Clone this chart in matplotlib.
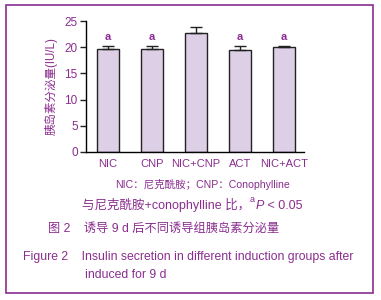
import matplotlib
matplotlib.use('Agg')
import matplotlib.pyplot as plt
from matplotlib.patches import Rectangle

plt.rcParams['font.family'] = ['Liberation Sans', 'Noto Sans CJK SC', 'DejaVu Sans']

groups = ['NIC', 'CNP', 'NIC+CNP', 'ACT', 'NIC+ACT']
means = [19.7, 19.7, 22.8, 19.5, 20.1]
errs = [0.5, 0.6, 1.1, 0.8, 0.1]
marks = ['a', 'a', '', 'a', 'a']
yticks = [0, 5, 10, 15, 20, 25]

purple = '#8a2d8f'
fill = '#dccfe6'

fig = plt.figure(figsize=(3.81, 3.0), dpi=100)
fig.patch.set_facecolor('white')

# purple frame around the whole figure
fig.patches.append(Rectangle((6 / 381, 1 - 293 / 300), 367 / 381, 288 / 300,
                             transform=fig.transFigure, fill=False,
                             edgecolor=purple, linewidth=1.2))

ax = fig.add_axes([86 / 381, 1 - 152 / 300, 218 / 381, 131 / 300])
x = list(range(len(groups)))
ax.bar(x, means, width=0.5, color=fill, edgecolor='#222222', linewidth=1.0,
       yerr=[[0] * len(errs), errs], capsize=4,
       error_kw=dict(ecolor='#222222', elinewidth=1.0, capthick=1.0))
for i, m in enumerate(marks):
    if m:
        ax.text(i, 21.9, m, ha='center', va='center', color=purple,
                fontsize=8, fontweight='bold')

ax.set_xlim(-0.5, 4.45)
ax.set_ylim(0, 25)
ax.set_yticks(yticks)
ax.set_xticks(x)
ax.set_xticklabels(groups)
ax.spines['top'].set_visible(False)
ax.spines['right'].set_visible(False)
ax.spines['left'].set_linewidth(1.0)
ax.spines['bottom'].set_linewidth(1.0)
ax.tick_params(axis='y', length=4, width=1.0, labelsize=8.5, colors='#222222',
               labelcolor=purple, pad=2)
ax.tick_params(axis='x', length=0, labelsize=8, labelcolor=purple, pad=5)
ax.set_ylabel('胰岛素分泌量(IU/L)', color=purple, fontsize=8.3, labelpad=5)

fig.text(203 / 381, 1 - 185 / 300, 'NIC：尼克酰胺；CNP：Conophylline',
         ha='center', va='center', color=purple, fontsize=7.6)

# note line built in pieces so the CJK fallback still works
t1 = fig.text(82 / 381, 1 - 205 / 300, '与尼克酰胺+conophylline 比，',
              ha='left', va='center', color=purple, fontsize=9)
plt.annotate('a', xy=(1, 0.55), xycoords=t1, va='bottom', ha='left',
             color=purple, fontsize=6.5, annotation_clip=False)
t3 = plt.annotate('P', xy=(1, 0.0), xycoords=t1, xytext=(4, 0),
                  textcoords='offset points', va='bottom', ha='left',
                  color=purple, fontsize=9, fontstyle='italic',
                  annotation_clip=False)
plt.annotate(' < 0.05', xy=(1, 0.0), xycoords=t3, va='bottom', ha='left',
             color=purple, fontsize=9, annotation_clip=False)

fig.text(48 / 381, 1 - 229 / 300, '图 2    诱导 9 d 后不同诱导组胰岛素分泌量',
         ha='left', va='center', color=purple, fontsize=8.8, fontweight='medium')
fig.text(23 / 381, 1 - 257 / 300,
         'Figure 2    Insulin secretion in different induction groups after',
         ha='left', va='center', color=purple, fontsize=8.8)
fig.text(85 / 381, 1 - 275 / 300, 'induced for 9 d',
         ha='left', va='center', color=purple, fontsize=8.8)

fig.savefig('out.png', dpi=100)
